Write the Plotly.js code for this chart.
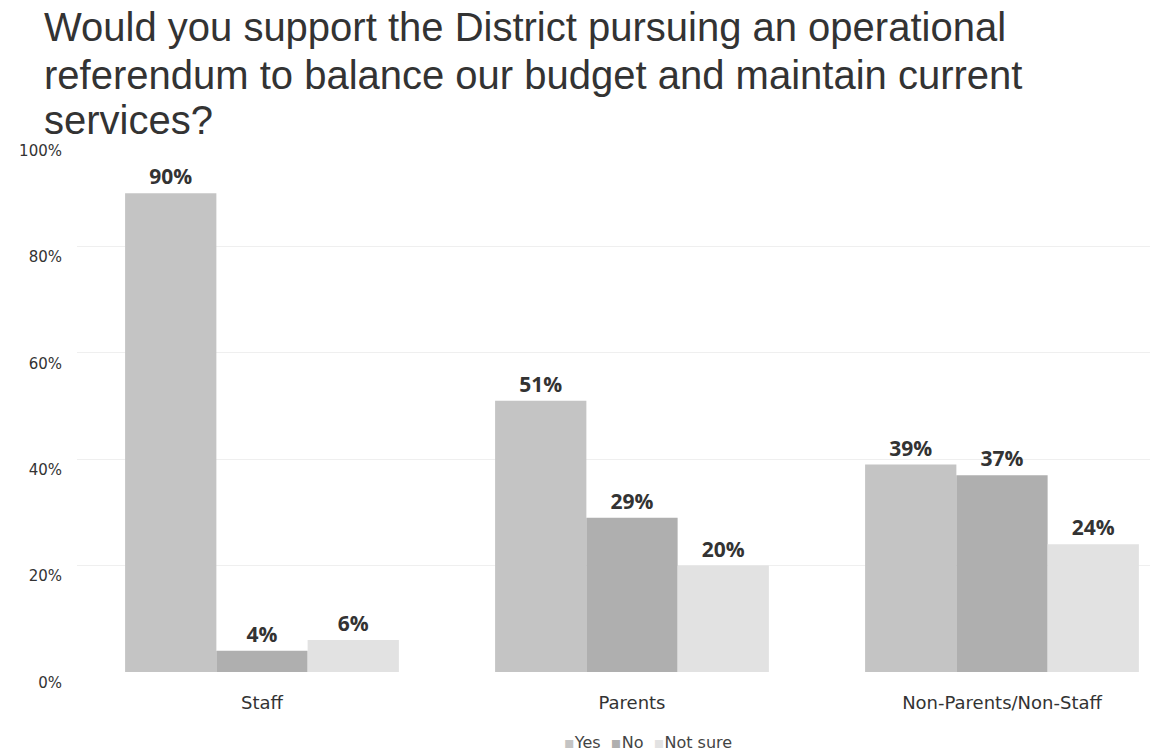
<!DOCTYPE html>
<html>
<head>
<meta charset="utf-8">
<script src="https://cdn.plot.ly/plotly-3.0.1.min.js"></script>
<style>html,body{margin:0;padding:0;background:#fff;}#chart{width:1156px;height:752px;}</style>
</head>
<body>
<div id="chart"></div>
<script>
const categories = ["Staff", "Parents", "Non-Parents/Non-Staff"];
const seriesNames = ["Yes", "No", "Not sure"];
const yesValues = [90, 51, 39];
const noValues = [4, 29, 37];
const notSureValues = [6, 20, 24];
const seriesColors = ["#c4c4c4", "#afafaf", "#e2e2e2"];
const yTicks = [0, 20, 40, 60, 80, 100];
const titleLines = [
  "Would you support the District pursuing an operational",
  "referendum to balance our budget and maintain current",
  "services?"
];

const allValues = [yesValues, noValues, notSureValues];
const traces = allValues.map((vals, i) => ({
  type: "bar",
  name: seriesNames[i],
  x: categories,
  y: vals,
  marker: {color: seriesColors[i]},
  text: vals.map(v => v + "%"),
  textposition: "outside",
  cliponaxis: false,
  textfont: {family: "Open Sans, sans-serif", size: 21, color: "#333", weight: "bold"},
  hoverinfo: "none",
  showlegend: false
}));

const titleY = [1.2133, 1.1231, 1.0380];
const annotations = titleLines.map((t, i) => ({
  text: t,
  xref: "paper", yref: "paper",
  x: -0.0326, y: titleY[i],
  xanchor: "left", yanchor: "middle",
  showarrow: false,
  font: {family: "Liberation Sans, Arial, sans-serif", size: 40, color: "#333"}
}));

const legendText = seriesNames.map((n, i) =>
  '<span style="color:' + seriesColors[i] + '">▪</span>' + n
).join("  ");
annotations.push({
  text: legendText,
  xref: "paper", yref: "paper",
  x: 0.532, y: -0.1316,
  xanchor: "center", yanchor: "middle",
  showarrow: false,
  font: {family: "DejaVu Sans, sans-serif", size: 16, color: "#444"}
});

const layout = {
  width: 1156,
  height: 752,
  paper_bgcolor: "#ffffff",
  plot_bgcolor: "#ffffff",
  margin: {l: 77, r: 6, t: 140, b: 80},
  barmode: "group",
  bargap: 0.26,
  bargroupgap: 0,
  showlegend: false,
  xaxis: {
    range: [-0.5, 2.4],
    showgrid: false,
    showline: false,
    zeroline: false,
    ticks: "",
    ticklabelstandoff: 18,
    tickfont: {family: "DejaVu Sans, sans-serif", size: 18, color: "#333"}
  },
  yaxis: {
    range: [0, 100],
    tickvals: yTicks,
    ticktext: yTicks.map(v => v + "%"),
    showgrid: true,
    gridcolor: "#efefef",
    zeroline: false,
    showline: false,
    ticks: "",
    ticklabelposition: "outside bottom",
    ticklabelstandoff: 14,
    tickfont: {family: "DejaVu Sans, sans-serif", size: 15, color: "#333"}
  },
  annotations: annotations
};

Plotly.newPlot("chart", traces, layout, {displayModeBar: false, staticPlot: true});
</script>
</body>
</html>
